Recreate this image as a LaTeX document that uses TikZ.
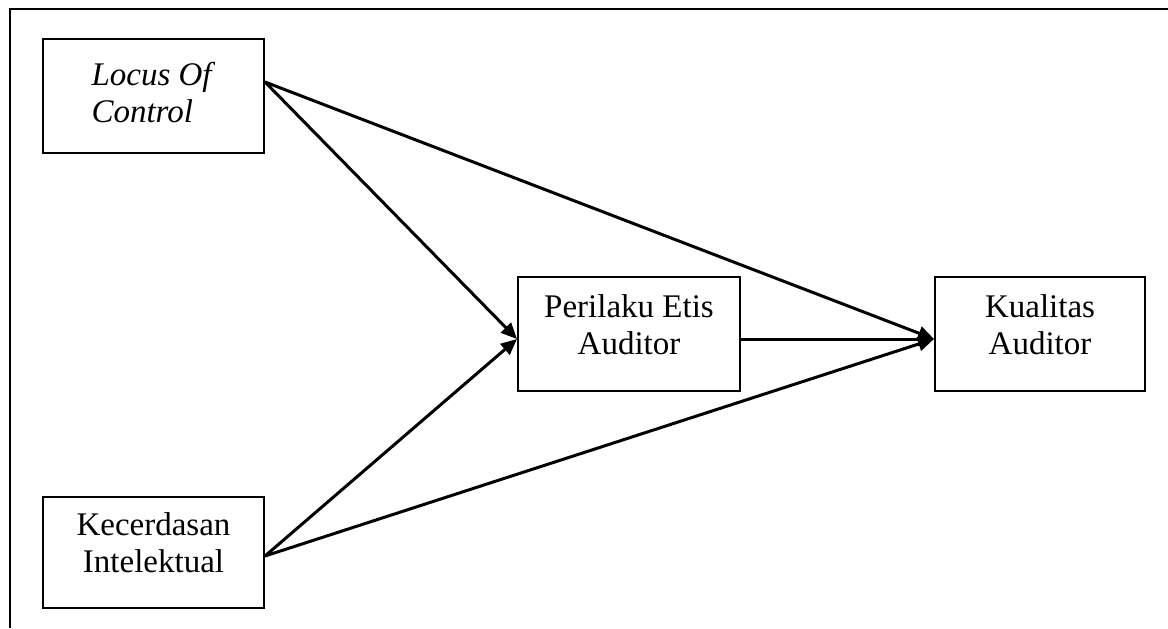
\documentclass[tikz,border=0pt]{standalone}
\usepackage{fontspec}
\setmainfont{Liberation Serif}
\usetikzlibrary{arrows.meta}

\begin{document}
\begin{tikzpicture}[x=.5pt,y=-.5pt,box/.style={draw,line width=1pt,inner sep=0pt,minimum height=57pt,text depth=9.5pt,align=center,font=\fontsize{16.5}{18.5}\selectfont},link/.style={-{Triangle[length=8pt,width=7pt]},line width=1.5pt}]
\useasboundingbox (0,0) rectangle (1168,628);

% page frame: only the top and left edges are visible
\draw[line width=.8pt] (10,628)--(10,9)--(1168,9);

\node[box,minimum width=110.5pt,align=flush left,text width=62pt,text depth=22pt,font=\fontsize{16.5}{18.5}\selectfont\itshape] (locus) at(153.5,96) {Locus Of\\Control};
\node[box,minimum width=110.5pt,minimum height=55.5pt] (kecerdasan) at(153.5,552.5) {Kecerdasan\\Intelektual};
\node[box,minimum width=111pt] (perilaku) at(629,334) {Perilaku Etis\\Auditor};
\node[box,minimum width=105pt] (kualitas) at(1040,334) {Kualitas\\Auditor};

\draw[link] ([yshift=7pt]locus.east)--([yshift=-2.5pt]perilaku.west);
\draw[link] ([yshift=7pt]locus.east)--([yshift=-2.5pt]kualitas.west);
\draw[link] ([yshift=-1.75pt]kecerdasan.east)--([yshift=-2.5pt]perilaku.west);
\draw[link] ([yshift=-1.75pt]kecerdasan.east)--([yshift=-2.5pt]kualitas.west);
\draw[link] ([yshift=-2.5pt]perilaku.east)--([yshift=-2.5pt]kualitas.west);
\end{tikzpicture}
\end{document}
